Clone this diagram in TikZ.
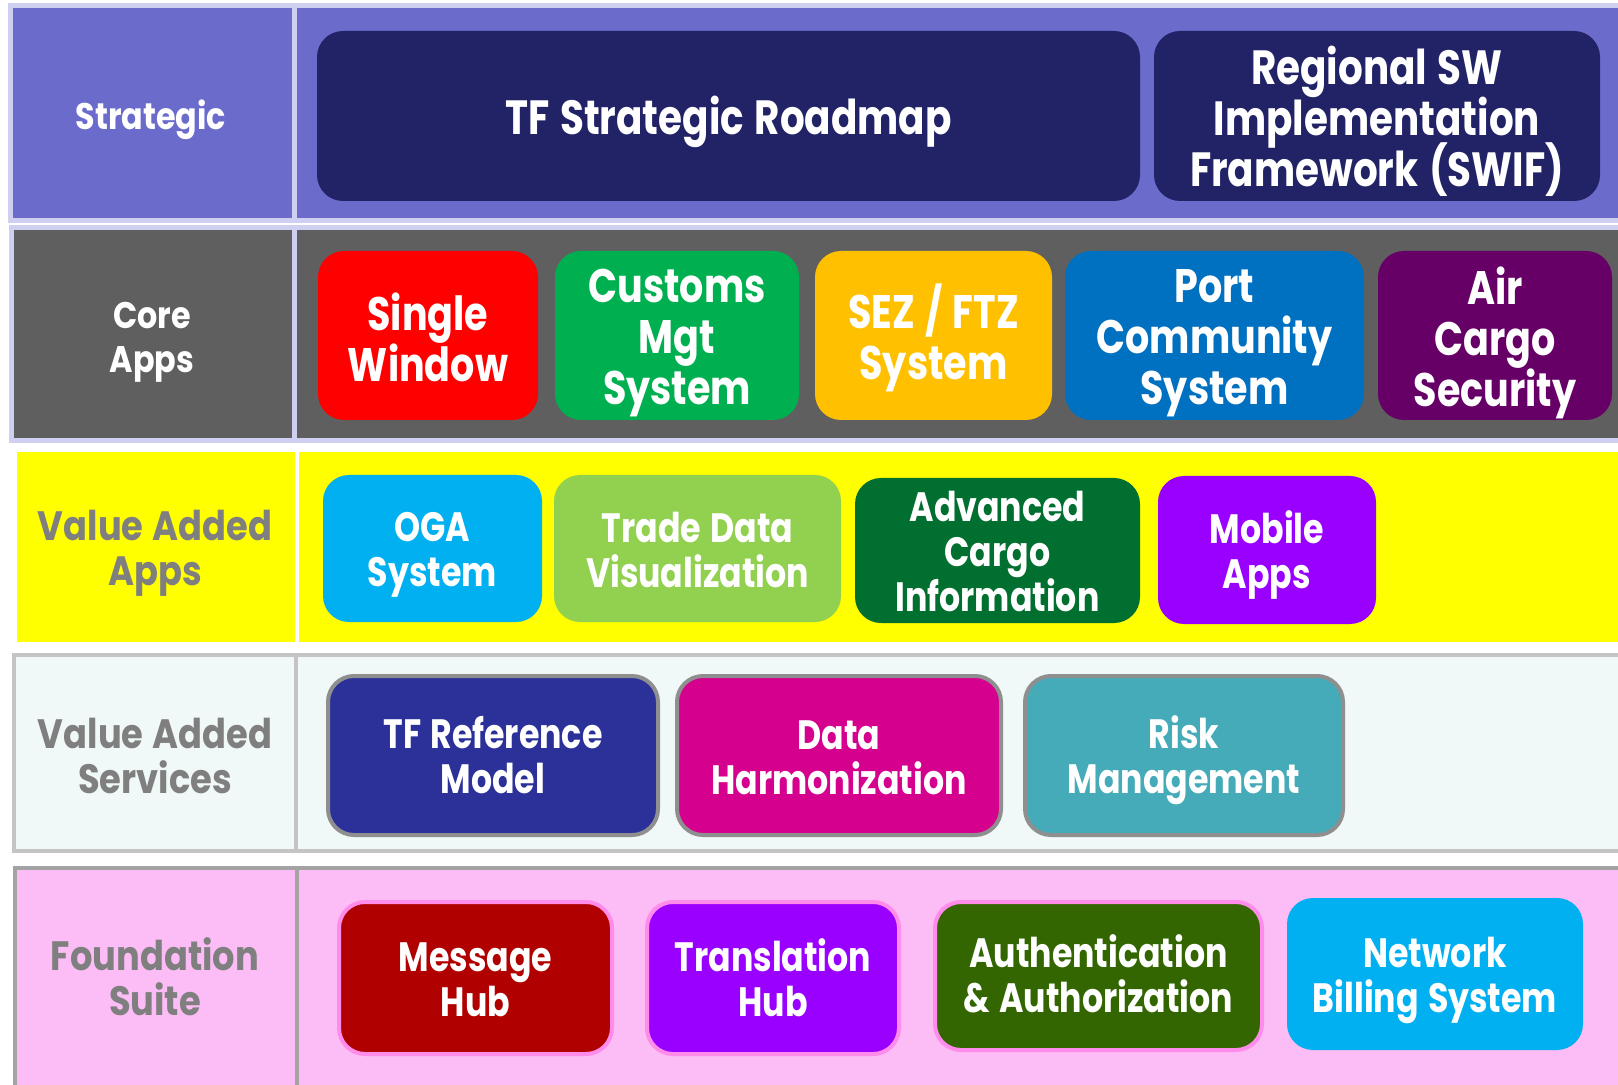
\documentclass[tikz,border=0pt]{standalone}
\usepackage{fontspec}
\setmainfont{Poppins}[FakeStretch=0.81, WordSpace=1.3]
\newfontfamily\labfont{Poppins}[FakeStretch=0.86, WordSpace=1.2]
\definecolor{bandpurple}{HTML}{6B6BCC}
\definecolor{lav}{HTML}{CFCFF2}
\definecolor{coregray}{HTML}{5F5F5F}
\definecolor{bandyellow}{HTML}{FFFF00}
\definecolor{vasfill}{HTML}{F0F8F8}
\definecolor{vasline}{HTML}{C4C4C4}
\definecolor{fndfill}{HTML}{FCBCF5}
\definecolor{fndline}{HTML}{A3A3A3}
\definecolor{labgray}{HTML}{7F7F7F}
\definecolor{navy}{HTML}{222266}
\definecolor{cred}{HTML}{FF0000}
\definecolor{cgreen}{HTML}{00B050}
\definecolor{corange}{HTML}{FFC000}
\definecolor{cblue}{HTML}{0070C0}
\definecolor{cplum}{HTML}{660066}
\definecolor{ccyan}{HTML}{00B0F0}
\definecolor{clime}{HTML}{92D050}
\definecolor{cdgreen}{HTML}{006F2F}
\definecolor{cviolet}{HTML}{9900FF}
\definecolor{cindigo}{HTML}{2B3199}
\definecolor{cmagenta}{HTML}{D6008E}
\definecolor{cteal}{HTML}{46ABB9}
\definecolor{cmaroon}{HTML}{B00000}
\definecolor{colive}{HTML}{336600}
\definecolor{boxgray}{HTML}{8F8F8F}
\definecolor{pinkedge}{HTML}{FF8CEB}
\lineskiplimit=-20pt
\tikzset{
  appbox/.style={rounded corners=13pt, inner sep=0pt},
  boxtext/.style={align=center, text=white, inner sep=0pt},
  topfont/.style={font=\fontsize{24}{25.5}\selectfont\bfseries},
  corefont/.style={font=\fontsize{23.5}{25.5}\selectfont\bfseries},
  lowfont/.style={font=\fontsize{20.5}{22.5}\selectfont\bfseries},
  toplab/.style={align=center, text=white, font=\labfont\fontsize{18.5}{22}\selectfont\bfseries},
  lowlab/.style={align=center, text=labgray, font=\labfont\fontsize{20.5}{22.5}\selectfont\bfseries},
  vasedge/.style={draw=boxgray, line width=2pt},
  fndedge/.style={draw=pinkedge, line width=2pt},
}
\begin{document}
\begin{tikzpicture}[x=0.5pt,y=-0.5pt]
\useasboundingbox (0,0) rectangle (1618,1085);
\clip (0,0) rectangle (1618,1085);
\fill[white] (0,0) rectangle (1618,1085);
% bands
\draw[lav, line width=2.5pt, fill=bandpurple] (10.5,5.5) rectangle (1650,220.5);
\draw[lav, line width=2.5pt] (294,5.5) -- (294,220.5);
\draw[lav, line width=2.5pt, fill=coregray] (11,227.5) rectangle (1650,440.5);
\draw[lav, line width=2.5pt] (294.5,227.5) -- (294.5,440.5);
\fill[bandyellow] (17,452) rectangle (1650,642);
\draw[white, line width=2pt] (297,452) -- (297,642);
\draw[vasline, line width=2pt, fill=vasfill] (14,655) rectangle (1650,851);
\draw[vasline, line width=2pt] (296,655) -- (296,851);
\draw[fndline, line width=2pt, fill=fndfill] (15,868) rectangle (1650,1100);
\draw[fndline, line width=2pt] (297,868) -- (297,1100);
% row labels
\node[toplab] (lstrat) at (151,120) {Strategic};
\node[toplab] (lcore) at (152,342) {Core\\Apps};
\node[lowlab] (lvaa) at (155,553) {Value Added\\Apps};
\node[lowlab] (lvas) at (155,756) {Value Added\\Services};
\node[lowlab] (lfnd) at (155,977) {Foundation\\Suite};
% strategic
\node[appbox, fill=navy, minimum width=411.5pt, minimum height=85pt] (tfsr) at (728.5,116) {};
\node[boxtext, topfont, yshift=-3.1pt] (tfsrt) at (tfsr) {TF Strategic Roadmap};
\node[appbox, fill=navy, minimum width=223pt, minimum height=85pt] (swif) at (1377,116) {};
\node[boxtext, topfont, yshift=-2.6pt] (swift) at (swif) {Regional SW\\Implementation\\Framework (SWIF)};
% core apps
\node[appbox, fill=cred, minimum width=110pt, minimum height=84.5pt] (sw) at (428,335.5) {};
\node[boxtext, corefont, yshift=-1pt] (swt) at (sw) {Single\\Window};
\node[appbox, fill=cgreen, minimum width=122pt, minimum height=84.5pt] (cms) at (677,335.5) {};
\node[boxtext, corefont, yshift=-3.6pt] (cmst) at (cms) {Customs\\Mgt\\System};
\node[appbox, fill=corange, minimum width=118.5pt, minimum height=84.5pt] (sez) at (933.5,335.5) {};
\node[boxtext, corefont, yshift=-1pt] (sezt) at (sez) {SEZ / FTZ\\System};
\node[appbox, fill=cblue, minimum width=149.5pt, minimum height=84.5pt] (pcs) at (1214.5,335.5) {};
\node[boxtext, corefont, yshift=-4pt] (pcst) at (pcs) {Port\\Community\\System};
\node[appbox, fill=cplum, minimum width=117pt, minimum height=84.5pt] (acs) at (1495,335.5) {};
\node[boxtext, corefont, yshift=-3.6pt] (acst) at (acs) {Air\\Cargo\\Security};
% value added apps
\node[appbox, fill=ccyan, minimum width=109.5pt, minimum height=73.5pt] (oga) at (432.5,548.5) {};
\node[boxtext, lowfont, yshift=-3.1pt] (ogat) at (oga) {OGA\\System};
\node[appbox, fill=clime, minimum width=143.5pt, minimum height=73.5pt] (tdv) at (697.5,548.5) {};
\node[boxtext, lowfont, yshift=-0.8pt] (tdvt) at (tdv) {Trade Data\\Visualization};
\node[appbox, fill=cdgreen, minimum width=142.5pt, minimum height=72.5pt] (aci) at (997.5,550.5) {};
\node[boxtext, lowfont, yshift=-0.5pt] (acit) at (aci) {Advanced\\Cargo\\Information};
\node[appbox, fill=cviolet, minimum width=109pt, minimum height=74pt] (mob) at (1267,550) {};
\node[boxtext, lowfont, yshift=-2.6pt] (mobt) at (mob) {Mobile\\Apps};
% value added services
\node[appbox, vasedge, fill=cindigo, minimum width=165pt, minimum height=79.5pt] (tfrm) at (493,755.5) {};
\node[boxtext, lowfont] (tfrmt) at (tfrm) {TF Reference\\Model};
\node[appbox, vasedge, fill=cmagenta, minimum width=162pt, minimum height=79.5pt] (dh) at (839,755.5) {};
\node[boxtext, lowfont, yshift=-1.3pt] (dht) at (dh) {Data\\Harmonization};
\node[appbox, vasedge, fill=cteal, minimum width=159pt, minimum height=79.5pt] (rm) at (1184,755.5) {};
\node[boxtext, lowfont, yshift=-2.6pt] (rmt) at (rm) {Risk\\Management};
% foundation
\node[appbox, fndedge, fill=cmaroon, minimum width=136.5pt, minimum height=76pt] (mh) at (475.5,978) {};
\node[boxtext, lowfont, yshift=-1pt] (mht) at (mh) {Message\\Hub};
\node[appbox, fndedge, fill=cviolet, minimum width=126pt, minimum height=76pt] (th) at (773,978) {};
\node[boxtext, lowfont] (tht) at (th) {Translation\\Hub};
\node[appbox, fndedge, fill=colive, minimum width=163.5pt, minimum height=74pt] (aa) at (1098.5,976) {};
\node[boxtext, lowfont, yshift=1pt] (aat) at (aa) {Authentication\\\& Authorization};
\node[appbox, fill=ccyan, minimum width=148pt, minimum height=76pt] (nbs) at (1435,974) {};
\node[boxtext, lowfont, yshift=-3.1pt] (nbst) at (nbs) {Network\\Billing System};
\end{tikzpicture}
\end{document}
